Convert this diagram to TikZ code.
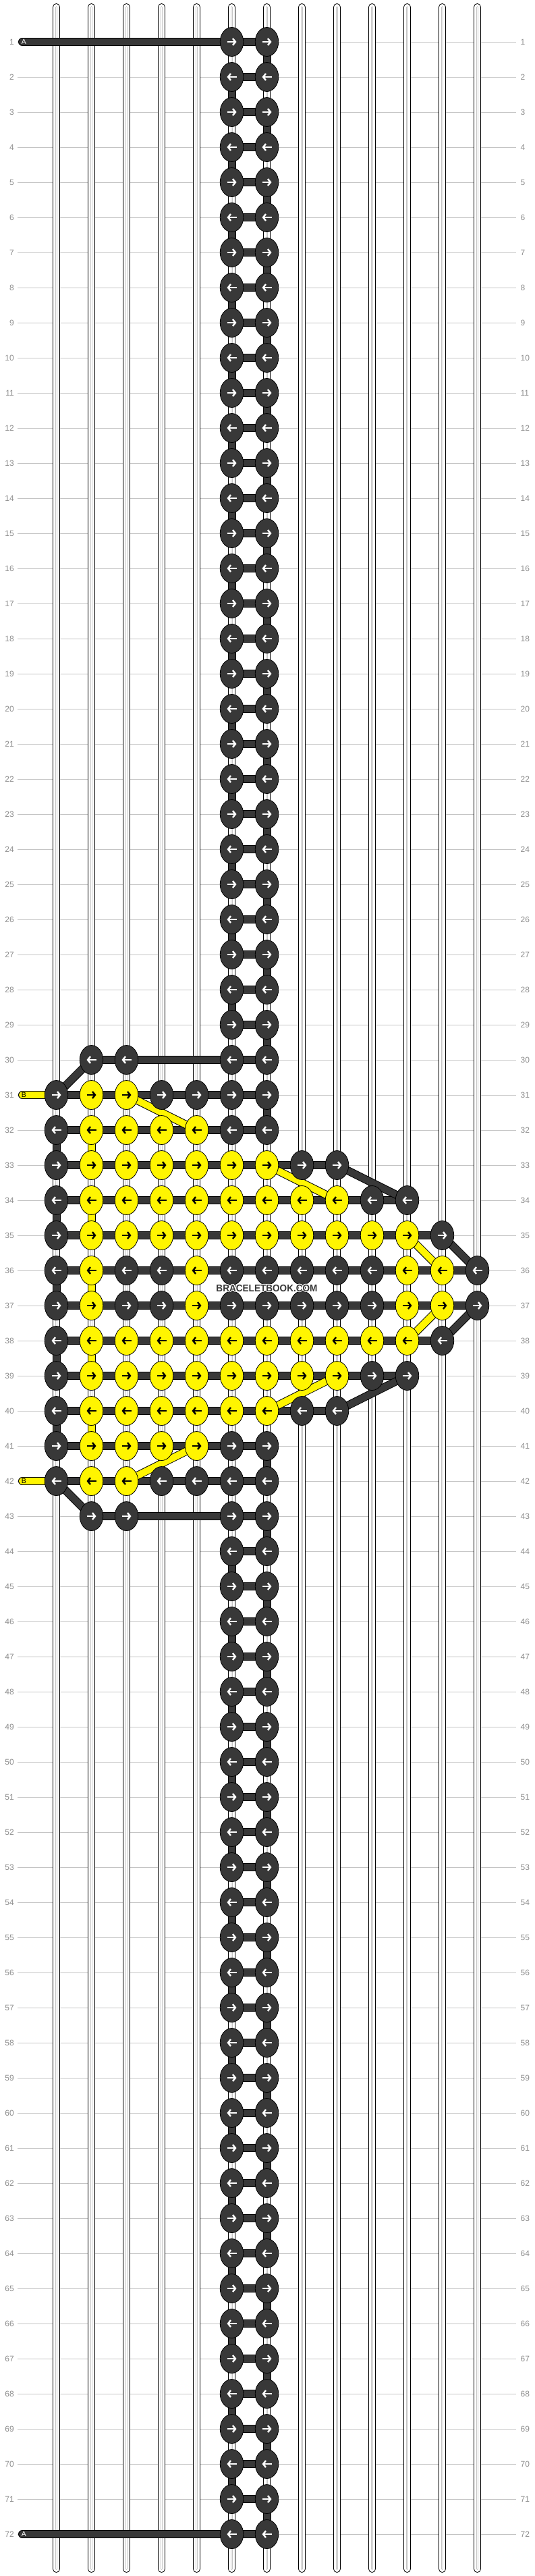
\documentclass[tikz,border=0pt]{standalone}
\usepackage{fontspec}
\setmainfont{Liberation Sans}
\usetikzlibrary{shapes.geometric,arrows.meta}
\definecolor{cd}{HTML}{383838}
\definecolor{cy}{HTML}{FFF500}
\colorlet{ad}{white}
\colorlet{ay}{black}
\definecolor{gridgray}{HTML}{C4C4C4}
\definecolor{labgray}{HTML}{8E8E8E}
\pgfdeclarelayer{back}
\pgfdeclarelayer{mid}
\pgfsetlayers{back,mid,main}
\tikzset{
  knot/.style={ellipse,draw=black,line width=0.8pt,fill=c#1,minimum width=34.5pt,minimum height=43pt,inner sep=0pt},
  knotarrow/.style={draw=a#1,line width=2.4pt,-{Straight Barb[length=4pt,width=10pt]}},
  thread/.style={draw=black,line width=12pt,postaction={draw=#1,line width=10pt}},
  string/.style={draw=black,line width=11pt,line cap=round,
    postaction={draw=white,line width=9pt,postaction={draw=gray!45,line width=3pt,postaction={draw=white,line width=1pt}}}},
  gridline/.style={draw=gridgray,line width=1pt},
  rowlabel/.style={text=labgray,inner sep=0pt,font=\fontsize{12}{12}\selectfont},
  endlabel/.style={anchor=west,inner sep=0pt,font=\fontsize{10.5}{11}\selectfont},
  watermark/.style={inner sep=0pt,text=cd,font=\bfseries\fontsize{14.6}{15}\selectfont}
}
\newcommand\knotat[3]{%
  \node[knot=#3] (k-#1-#2) at (#2,#1) {};
  \ifodd#1\relax
    \draw[knotarrow=#3] ([xshift=-7pt]k-#1-#2.center) -- ([xshift=7pt]k-#1-#2.center);
  \else
    \draw[knotarrow=#3] ([xshift=7pt]k-#1-#2.center) -- ([xshift=-7pt]k-#1-#2.center);
  \fi}
\newcommand\watermarktext{\scalebox{0.93}[1]{BRACELETBOOK.COM}}

\begin{document}
\begin{tikzpicture}[x=52pt,y=-52pt]
\useasboundingbox (-0.6058,-0.1923) rectangle (14.625,73.192);
\begin{pgfonlayer}{back}
\fill[white] (-0.6058,-0.1923) rectangle (14.625,73.192);
\foreach \r in {1,...,72} {
  \draw[gridline] (-0.106,\r) -- (14.115,\r);
  \node[rowlabel,anchor=east] (left-\r) at (-0.202,\r) {\r};
  \node[rowlabel,anchor=west] (right-\r) at (14.23,\r) {\r};
}
\foreach \c in {1,...,13}
  \draw[string] (\c,0.01) -- (\c,72.99);
\end{pgfonlayer}

\foreach \r in {1,...,29,44,45,...,72} {\knotat{\r}{6}{d}\knotat{\r}{7}{d}}
\foreach \r in {30,43}
  \foreach \c in {2,3,6,7} {\knotat{\r}{\c}{d}}
\foreach \r/\row in {31/{d,y,y,d,d,d,d},32/{d,y,y,y,y,d,d},33/{d,y,y,y,y,y,y,d,d},
  34/{d,y,y,y,y,y,y,y,y,d,d},35/{d,y,y,y,y,y,y,y,y,y,y,d},36/{d,y,d,d,y,d,d,d,d,d,y,y,d},
  37/{d,y,d,d,y,d,d,d,d,d,y,y,d},38/{d,y,y,y,y,y,y,y,y,y,y,d},39/{d,y,y,y,y,y,y,y,y,d,d},
  40/{d,y,y,y,y,y,y,d,d},41/{d,y,y,y,y,d,d},42/{d,y,y,d,d,d,d}}
  \foreach \k [count=\c] in \row {\knotat{\r}{\c}{\k}}

\begin{pgfonlayer}{mid}
\foreach \r in {1,...,29,44,45,...,72}
  \draw[thread=cd] (k-\r-6.center) -- (k-\r-7.center);
\foreach \r/\first/\last in {30/2/7,31/1/7,32/1/7,33/1/9,34/1/11,35/1/12,36/1/13,
  37/1/13,38/1/12,39/1/11,40/1/9,41/1/7,42/1/7,43/2/7}
  \draw[thread=cd] (k-\r-\first.center) -- (k-\r-\last.center);
\foreach \r in {1,...,29,31,41,43,44,...,71} {
  \pgfmathtruncatemacro\n{\r+1}
  \pgfmathtruncatemacro\c{6+mod(\r,2)}
  \draw[thread=cd] (k-\r-\c.center) -- (k-\n-\c.center);
}
\foreach \r in {32,34,...,40} {
  \pgfmathtruncatemacro\n{\r+1}
  \draw[thread=cd] (k-\r-1.center) -- (k-\n-1.center);
  \draw[thread=cy] (k-\r-2.center) -- (k-\n-2.center);
}
\foreach \ra/\ca/\rb/\cb/\tone in {30/2/31/1/cd,42/1/43/2/cd,33/9/34/11/cd,35/12/36/13/cd,
  37/13/38/12/cd,39/11/40/9/cd,31/3/32/5/cy,33/7/34/9/cy,35/11/36/12/cy,37/12/38/11/cy,
  39/9/40/7/cy,41/5/42/3/cy}
  \draw[thread=\tone] (k-\ra-\ca.center) -- (k-\rb-\cb.center);
\foreach \r in {1,72} {
  \coordinate (endA-\r) at (0.029,\r);
  \draw[thread=cd,line cap=round] (endA-\r) -- (k-\r-6.center);
}
\foreach \r in {31,42} {
  \coordinate (endB-\r) at (0.029,\r);
  \draw[thread=cy,line cap=round] (endB-\r) -- (k-\r-1.center);
}
\end{pgfonlayer}

\foreach \r in {1,72}
  \node[endlabel,text=white] (labelA-\r) at (0.004,\r) {A};
\foreach \r in {31,42}
  \node[endlabel,text=black] (labelB-\r) at (0.004,\r) {B};

\foreach \a in {0,45,...,315}
  \node[watermark,text=white] (halo-\a) at ([shift={(\a:1pt)}]7,36.5) {\watermarktext};
\node[watermark] (mark) at (7,36.5) {\watermarktext};
\end{tikzpicture}
\end{document}
